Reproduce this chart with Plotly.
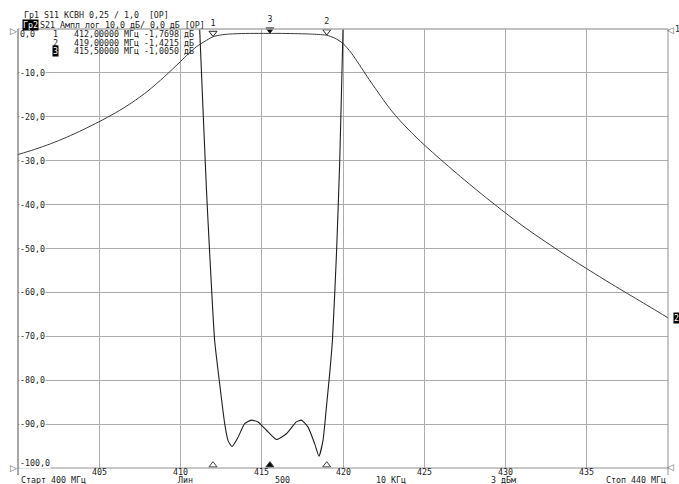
import plotly.graph_objects as go

# ---------------- data ----------------
s21_freq = [400.0, 401.0, 402.0, 403.0, 404.0, 405.0, 406.0, 407.0, 408.0, 409.0,
            410.0, 410.5, 411.0, 411.5, 412.0, 412.5, 413.0, 414.0, 415.0, 415.5,
            416.0, 417.0, 418.0, 418.5, 419.0, 419.5, 420.0, 420.5, 421.0, 421.5,
            422.0, 423.0, 424.0, 425.0, 426.0, 427.0, 428.0, 429.0, 430.0, 431.0,
            432.0, 433.0, 434.0, 435.0, 436.0, 437.0, 438.0, 439.0, 440.0]
s21_db = [-28.6, -27.45, -26.15, -24.65, -22.95, -21.1, -19.1, -16.8, -14.1, -10.9,
          -7.4, -5.6, -4.0, -2.8, -1.77, -1.35, -1.15, -1.02, -1.0, -1.005,
          -1.0, -1.05, -1.15, -1.25, -1.42, -2.1, -3.3, -5.4, -8.1, -10.9,
          -13.6, -18.7, -22.8, -26.4, -29.7, -32.9, -36.0, -39.0, -41.9, -44.7,
          -47.3, -49.8, -52.25, -54.6, -56.9, -59.15, -61.35, -63.55, -65.8]

s11_freq = [411.16, 411.18, 411.59, 411.69, 412.10, 412.41, 412.72, 412.92, 413.17, 413.54,
            413.95, 414.36, 414.77, 415.29, 415.90, 416.52, 417.13, 417.44, 417.85, 418.26,
            418.52, 418.77, 418.98, 419.18, 419.35, 419.60, 419.80, 420.00, 420.02]
s11_db = [3.0, 0.0, -36.0, -43.5, -70.9, -80.8, -89.9, -93.7, -95.1, -93.0,
          -89.9, -89.1, -89.5, -91.4, -93.5, -92.2, -89.5, -89.1, -90.7, -94.5,
          -97.3, -93.7, -86.1, -78.5, -70.9, -51.1, -29.9, -0.2, 3.0]

marker_freq = [412.0, 419.0, 415.5]
marker_val = [-1.7698, -1.4215, -1.0050]
marker_names = ["1", "2", "3"]
marker_text = ["412,00000 МГц -1,7698 дБ",
               "419,00000 МГц -1,4215 дБ",
               "415,50000 МГц -1,0050 дБ"]

x_ticks = [405, 410, 415, 420, 425, 430, 435]
x_labels = ["405", "410", "415", "420", "425", "430", "435"]
y_ticks = [0, -10, -20, -30, -40, -50, -60, -70, -80, -90, -100]
y_labels = ["0,0", "-10,0", "-20,0", "-30,0", "-40,0", "-50,0",
            "-60,0", "-70,0", "-80,0", "-90,0", "-100,0"]

header1 = "Гр1 S11 КСВН 0,25 / 1,0  [OP]"
header2_tag = "Гр2"
header2 = "S21 Ампл лог 10,0 дБ/ 0,0 дБ [OP]"
footer = [("Старт 400 МГц", "left"), ("Лин", "center"), ("500", "center"),
          ("10 КГц", "center"), ("3 дБм", "center"), ("Стоп 440 МГц", "right")]

# ---------------- layout helpers (pixel -> paper) ----------------
W, H = 679, 484
ML, MR, MT, MB = 18, 11, 29, 16
PW, PH = W - ML - MR, H - MT - MB
def xp(px):
    return (px - ML) / PW
def yp(py):
    return (H - MB - py) / PH

MONO = "DejaVu Sans Mono"
FS = 8.3
TXT = "#1a1a1a"
GRID = "#ababab"

fig = go.Figure()

fig.add_trace(go.Scatter(x=s21_freq, y=s21_db, mode="lines",
                         line=dict(color="#3a3a3a", width=1, shape="spline", smoothing=0.8),
                         hoverinfo="skip", showlegend=False))
fig.add_trace(go.Scatter(x=s11_freq, y=s11_db, mode="lines",
                         line=dict(color="#1e1e1e", width=1.1, shape="spline", smoothing=0.5),
                         hoverinfo="skip", showlegend=False))

# top markers on S21 (triangle apex on the trace)
fig.add_trace(go.Scatter(
    x=marker_freq, y=[v + 0.85 for v in marker_val], mode="markers+text",
    text=marker_names, textposition="top center",
    textfont=dict(family=MONO, size=FS, color=TXT),
    marker=dict(symbol="triangle-down", size=7,
                color=["white", "white", "black"],
                line=dict(color="#202020", width=1)),
    cliponaxis=False, hoverinfo="skip", showlegend=False))

# bottom markers (trace 1)
fig.add_trace(go.Scatter(
    x=marker_freq, y=[-99.35] * len(marker_freq), mode="markers",
    marker=dict(symbol="triangle-up", size=7,
                color=["white", "white", "black"],
                line=dict(color="#404040", width=1)),
    cliponaxis=False, hoverinfo="skip", showlegend=False))

ann = []
# y-axis labels inside the plot
for v, lab in zip(y_ticks, y_labels):
    yy = v
    if v == 0:
        yy = -1.15
    elif v == -100:
        yy = -98.8
    ann.append(dict(x=xp(19), xref="paper", y=yy, yref="y", text=lab,
                    showarrow=False, xanchor="left", yanchor="middle",
                    bgcolor="white", borderpad=0,
                    font=dict(family=MONO, size=FS, color=TXT)))

# x tick labels just under the frame
for v, lab in zip(x_ticks, x_labels):
    ann.append(dict(x=v, xref="x", y=yp(471.8), yref="paper", text=lab,
                    showarrow=False, xanchor="center", yanchor="middle",
                    font=dict(family=MONO, size=FS, color=TXT)))

# header lines
ann.append(dict(x=xp(21.5), y=yp(14.8), xref="paper", yref="paper", text=header1,
                showarrow=False, xanchor="left", yanchor="middle",
                font=dict(family=MONO, size=FS, color=TXT)))
ann.append(dict(x=xp(21.5), y=yp(24.5), xref="paper", yref="paper", text=header2_tag,
                showarrow=False, xanchor="left", yanchor="middle", bgcolor="black", borderpad=0,
                font=dict(family=MONO, size=FS, color="white")))
ann.append(dict(x=xp(38), y=yp(24.5), xref="paper", yref="paper", text=header2,
                showarrow=False, xanchor="left", yanchor="middle",
                font=dict(family=MONO, size=FS, color=TXT)))

# marker table
rows_y = [34, 42.8, 51.2]
for i, (nm, tx) in enumerate(zip(marker_names, marker_text)):
    active = (i == 2)
    ann.append(dict(x=xp(51.5), y=yp(rows_y[i]), xref="paper", yref="paper", text=nm,
                    showarrow=False, xanchor="left", yanchor="middle",
                    bgcolor="black" if active else "rgba(0,0,0,0)", borderpad=0,
                    font=dict(family=MONO, size=FS, color="white" if active else TXT)))
    ann.append(dict(x=xp(71.5), y=yp(rows_y[i]), xref="paper", yref="paper", text=tx,
                    showarrow=False, xanchor="left", yanchor="middle",
                    font=dict(family=MONO, size=FS, color=TXT)))

# footer
foot_x = [18.5, 185, 282, 391, 503, 668]
for (t, al), fx in zip(footer, foot_x):
    ann.append(dict(x=xp(fx), y=yp(480.2), xref="paper", yref="paper", text=t,
                    showarrow=False, xanchor=al, yanchor="middle",
                    font=dict(family=MONO, size=FS, color=TXT)))

# reference-position arrows
for (px_, py_, t) in [(13.5, 31, "▷"), (13.5, 468, "▷"), (670.5, 30, "◁"), (670.5, 467, "◁")]:
    ann.append(dict(x=xp(px_), y=yp(py_), xref="paper", yref="paper", text=t,
                    showarrow=False, xanchor="center", yanchor="middle",
                    font=dict(family="DejaVu Sans", size=9, color="#606060")))
ann.append(dict(x=xp(672.8), y=yp(29), xref="paper", yref="paper", text="1",
                showarrow=False, xanchor="left", yanchor="middle",
                font=dict(family=MONO, size=FS, color=TXT)))
# trace-2 level at right edge
ann.append(dict(x=xp(672.5), xref="paper", y=s21_db[-1], yref="y", text="2",
                showarrow=False, xanchor="left", yanchor="middle",
                bgcolor="black", borderpad=0,
                font=dict(family=MONO, size=FS, color="white")))

shapes = [
    dict(type="line", xref="paper", yref="paper", x0=0, x1=0, y0=yp(475), y1=1,
         line=dict(color="#505050", width=1)),
    dict(type="line", xref="paper", yref="paper", x0=1, x1=1, y0=yp(475), y1=1,
         line=dict(color="#909090", width=1)),
    dict(type="line", xref="paper", yref="paper", x0=0, x1=1, y0=0, y1=0,
         line=dict(color="#909090", width=1)),
    dict(type="line", xref="paper", yref="paper", x0=0, x1=1, y0=1, y1=1,
         line=dict(color=GRID, width=1.3)),
]

fig.update_layout(
    width=W, height=H, autosize=False,
    margin=dict(l=ML, r=MR, t=MT, b=MB, pad=0, autoexpand=False),
    paper_bgcolor="white", plot_bgcolor="white",
    annotations=ann, shapes=shapes, showlegend=False,
    xaxis=dict(range=[400, 440], tickvals=x_ticks, showticklabels=False,
               showgrid=True, gridcolor=GRID, gridwidth=1.3, zeroline=False,
               showline=False, ticks="", automargin=False, fixedrange=True),
    yaxis=dict(range=[-100, 0], tickvals=y_ticks[1:-1], showticklabels=False,
               showgrid=True, gridcolor=GRID, gridwidth=1.3, zeroline=False,
               showline=False, ticks="", automargin=False, fixedrange=True),
)

fig.write_html("out.html", config={"displayModeBar": False},
               post_script="document.body.style.margin='0px';document.body.style.overflow='hidden';")
